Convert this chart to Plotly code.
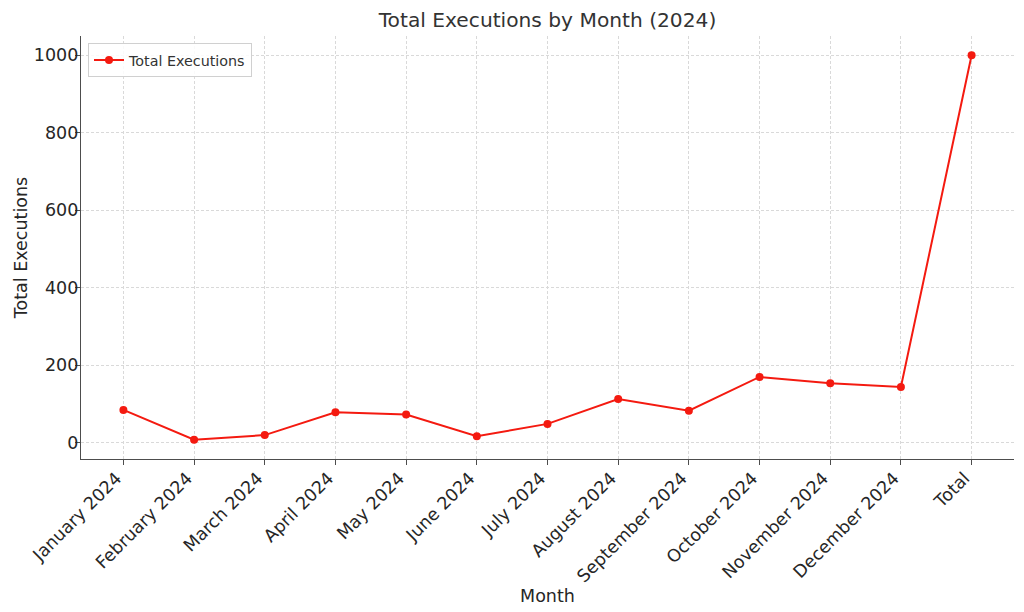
import plotly.graph_objects as go

# datos
months = ["January 2024", "February 2024", "March 2024", "April 2024", "May 2024",
          "June 2024", "July 2024", "August 2024", "September 2024", "October 2024",
          "November 2024", "December 2024", "Total"]
executions = [85, 8, 20, 79, 73, 17, 49, 113, 83, 170, 154, 144, 1000]

y_ticks = [0, 200, 400, 600, 800, 1000]

font_txt = "DejaVu Sans, Liberation Sans, sans-serif"
txt_color = "#262626"
axis_color = "#4d4d4d"
grid_color = "#d9d9d9"

fig = go.Figure()
fig.add_trace(go.Scatter(x=months, y=executions, name="Total Executions",
                         mode="lines+markers",
                         line=dict(color="#f41a10", width=2),
                         marker=dict(color="#f41a10", size=8)))

# la pagina tiene 8px de margen en el body, se compensa aqui
fig.update_layout(
    width=1016, height=604,
    margin=dict(l=73, r=10, t=28, b=153),
    paper_bgcolor="white", plot_bgcolor="white",
    font=dict(family=font_txt, color=txt_color, size=17),
    title=dict(text="Total Executions by Month (2024)", xref="paper", x=0.5, xanchor="center",
               yref="container", y=0.98, yanchor="middle",
               font=dict(size=20.2, color="#333333")),
    showlegend=True,
    legend=dict(x=0.0075, y=0.983, xanchor="left", yanchor="top",
                bgcolor="rgba(255,255,255,0.85)", bordercolor="#d0d0d0", borderwidth=1,
                tracegroupgap=0, itemwidth=30,
                font=dict(size=14.3, color="#333333")),
)

fig.update_xaxes(
    title=dict(text="Month", standoff=0, font=dict(size=17.5)),
    type="category", range=[-0.6, 12.6], tickangle=-45, automargin=False,
    showline=True, linecolor=axis_color, linewidth=1.3, mirror=False,
    ticks="outside", ticklen=5, tickcolor=axis_color, tickwidth=1.2,
    ticklabelshift=-7, ticklabelstandoff=-4,
    showgrid=True, gridcolor=grid_color, griddash="3px,2px", gridwidth=0.8,
    tickfont=dict(size=17.5), zeroline=False,
)
fig.update_yaxes(
    title=dict(text="Total Executions", standoff=1, font=dict(size=17.5)),
    range=[-41.6, 1049.6], tickvals=y_ticks, automargin=False,
    showline=True, linecolor=axis_color, linewidth=1.3, mirror=False,
    ticks="outside", ticklen=5, tickcolor=axis_color, tickwidth=1.2,
    ticklabelstandoff=-7,
    showgrid=True, gridcolor=grid_color, griddash="3px,2px", gridwidth=0.8,
    tickfont=dict(size=17.5), zeroline=False,
)

fig.write_html("out.html")
